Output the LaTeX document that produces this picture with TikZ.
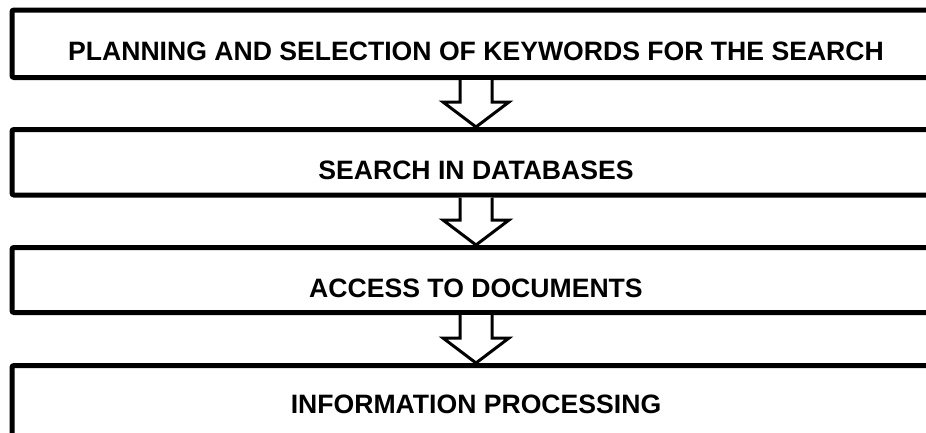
\documentclass[tikz,border=0pt]{standalone}
\usepackage{fontspec}
\setmainfont{Liberation Sans}
\usetikzlibrary{calc}
\tikzset{
  stage/.style={draw=black, line width=5pt, rounded corners=2pt, minimum width=928pt,
    inner sep=0pt, font=\bfseries\fontsize{26.6}{30}\selectfont},
  blockarrow/.style={draw=black, fill=white, line width=3pt, line join=miter}
}
\newcommand{\stagearrow}[2]{%
  \draw[blockarrow] ($(#1.south)+(-16,0)$) |- ($(#2.north)+(-33,-25)$) -- (#2.north)
    -- ($(#2.north)+(33,-25)$) -| ($(#1.south)+(16,0)$);
}

\begin{document}
\begin{tikzpicture}[x=1pt,y=-1pt]
\useasboundingbox (0,0) rectangle (926,432);
\clip (0,0) rectangle (926,432);
\node[stage, minimum height=67.5pt, text height=33.5pt, text depth=0pt] (plan) at (476,43.75)
  {PLANNING AND SELECTION OF KEYWORDS FOR THE SEARCH};
\node[stage, minimum height=65.5pt, text height=34.5pt, text depth=0pt] (search) at (476,162.25)
  {SEARCH IN DATABASES};
\node[stage, minimum height=65pt, text height=34pt, text depth=0pt] (access) at (476,280)
  {ACCESS TO DOCUMENTS};
\node[stage, minimum height=114.5pt, text height=19pt, text depth=37.5pt] (info) at (476,422.75)
  {INFORMATION PROCESSING};
\foreach \a/\b in {plan/search,search/access,access/info}
  {\stagearrow{\a}{\b}}
\end{tikzpicture}
\end{document}
